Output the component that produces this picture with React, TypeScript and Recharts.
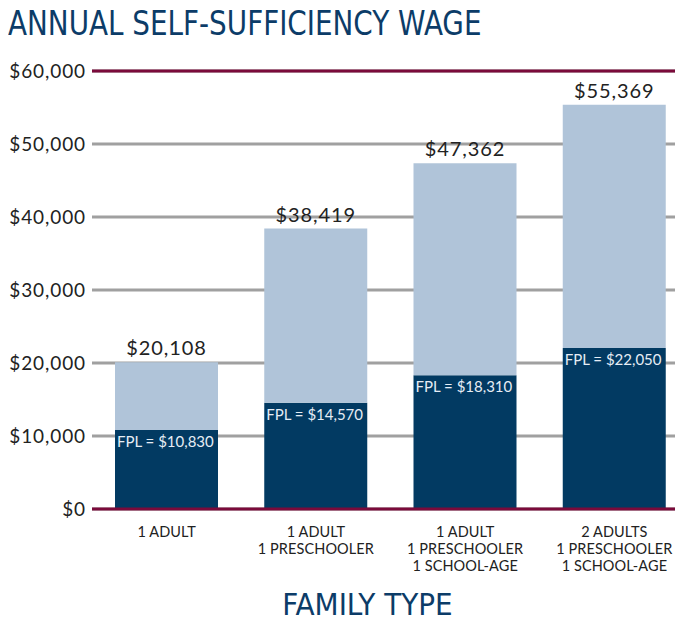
import React from "react";
import { Bar, BarChart, CartesianGrid, LabelList, ReferenceLine, XAxis, YAxis } from "recharts";

const familyTypes = [
  ["1 ADULT"],
  ["1 ADULT", "1 PRESCHOOLER"],
  ["1 ADULT", "1 PRESCHOOLER", "1 SCHOOL-AGE"],
  ["2 ADULTS", "1 PRESCHOOLER", "1 SCHOOL-AGE"],
];
const selfSufficiency = [20108, 38419, 47362, 55369];
const povertyLine = [10830, 14570, 18310, 22050];
const yTicks = [0, 10000, 20000, 30000, 40000, 50000, 60000];

const data = familyTypes.map((lines, i) => ({
  name: lines.join("|"),
  fpl: povertyLine[i],
  gap: selfSufficiency[i] - povertyLine[i],
  total: selfSufficiency[i],
}));

const NAVY = "#023a62";
const LIGHT = "#b0c4d9";
const MAROON = "#7b0a3b";
const FONT = "Lato, 'Open Sans', sans-serif";
const NARROW = "'Liberation Sans Narrow', 'DejaVu Sans Condensed', sans-serif";

const money = (v: number) => "$" + v.toLocaleString("en-US");

function FamilyTick({ x, y, payload }: any) {
  const lines = String(payload.value).split("|");
  return (
    <text x={x} y={y} textAnchor="middle" fill="#222" fontSize={14.5} fontFamily={FONT} letterSpacing={0.1}>
      {lines.map((l, i) => (
        <tspan key={i} x={x} dy={i === 0 ? 26 : 17}>
          {l}
        </tspan>
      ))}
    </text>
  );
}

function FplLabel({ x, y, value }: any) {
  return (
    <text x={x + 2} y={y + 17} fill="#e6edf5" fontSize={15} fontFamily={FONT}>
      FPL = {money(value)}
    </text>
  );
}

function TotalLabel({ x, y, width, value }: any) {
  return (
    <text
      x={x + width / 2}
      y={y - 7}
      textAnchor="middle"
      fill="#222"
      fontSize={20}
      fontFamily={FONT}
      letterSpacing={0.9}
    >
      {money(value)}
    </text>
  );
}

export default function App() {
  return (
    <div style={{ position: "absolute", left: 0, top: 0, width: 675, height: 622, overflow: "hidden", background: "#fff" }}>
      <div
        style={{
          position: "absolute",
          left: 8,
          top: 4,
          fontFamily: NARROW,
          fontSize: 33,
          color: "#0c3c68",
          whiteSpace: "nowrap",
          transform: "scaleX(0.937)",
          transformOrigin: "left top",
        }}
      >
        ANNUAL SELF-SUFFICIENCY WAGE
      </div>
      <BarChart
        width={700}
        height={622}
        data={data}
        margin={{ top: 71, right: 11, bottom: 0, left: 0 }}
        barSize={103}
      >
        <CartesianGrid vertical={false} stroke="#a0a0a0" strokeWidth={3} />
        <XAxis
          dataKey="name"
          axisLine={false}
          tickLine={false}
          tickSize={0}
          height={113}
          interval={0}
          tick={<FamilyTick />}
        />
        <YAxis
          domain={[0, 60000]}
          ticks={yTicks}
          axisLine={false}
          tickLine={false}
          tickSize={0}
          tickMargin={6}
          width={92}
          tickFormatter={money}
          tick={{ fill: "#222", fontSize: 19, fontFamily: FONT, letterSpacing: 0.9 }}
        />
        <Bar dataKey="fpl" stackId="a" fill={NAVY} isAnimationActive={false}>
          <LabelList dataKey="fpl" content={<FplLabel />} />
        </Bar>
        <Bar dataKey="gap" stackId="a" fill={LIGHT} isAnimationActive={false}>
          <LabelList dataKey="total" content={<TotalLabel />} />
        </Bar>
        <ReferenceLine y={0} stroke={MAROON} strokeWidth={3} />
        <ReferenceLine y={60000} stroke={MAROON} strokeWidth={3} />
      </BarChart>
      <div
        style={{
          position: "absolute",
          left: 0,
          width: 735,
          top: 586,
          textAlign: "center",
          fontFamily: NARROW,
          fontSize: 31,
          color: "#0c3c68",
        }}
      >
        FAMILY TYPE
      </div>
    </div>
  );
}
